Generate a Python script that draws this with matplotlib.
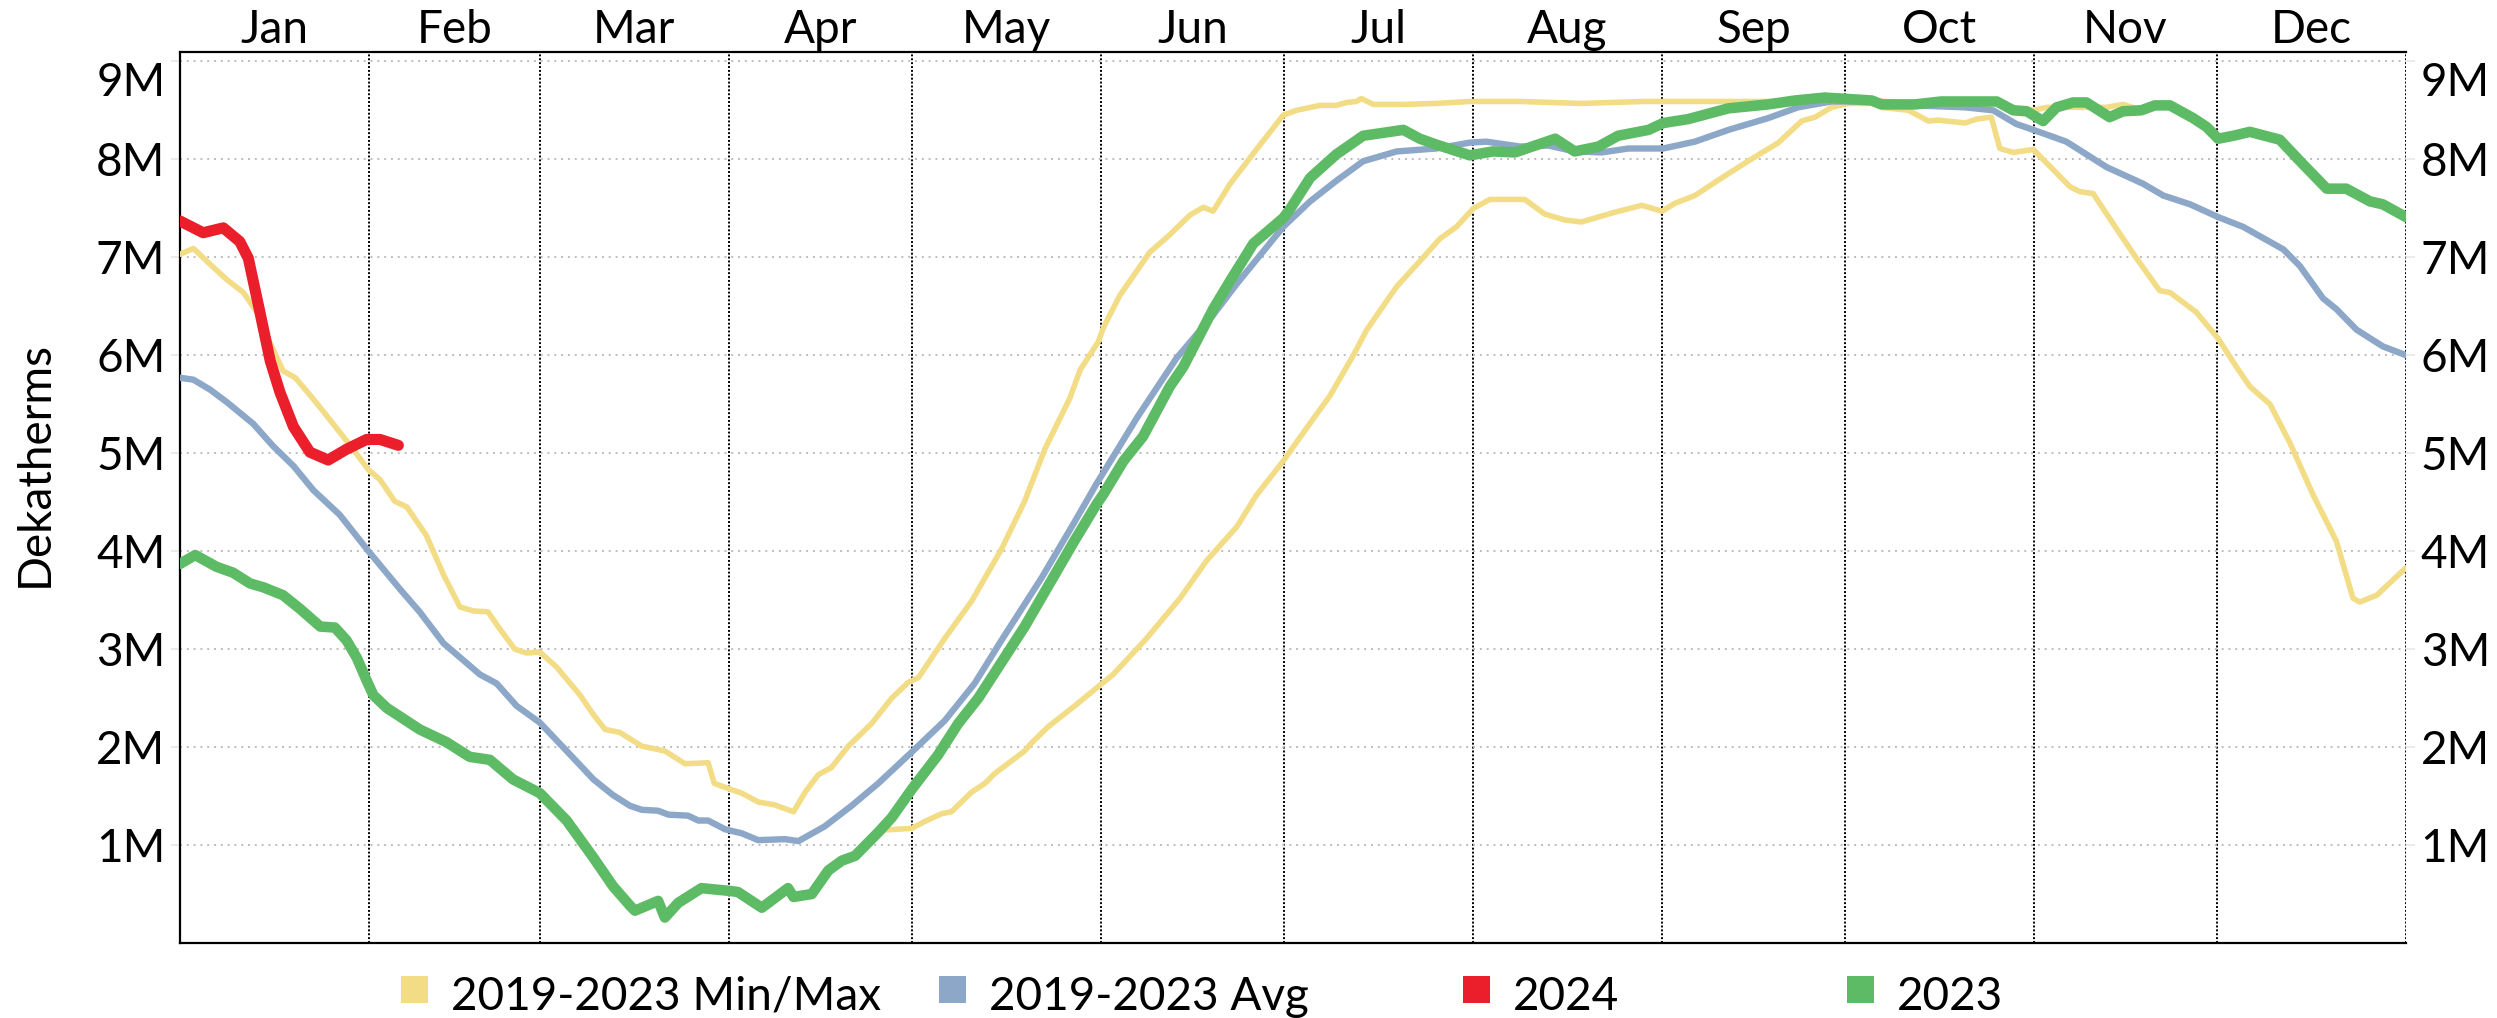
import matplotlib
matplotlib.use("Agg")
import matplotlib.pyplot as plt
from matplotlib.patches import Rectangle
from matplotlib.ticker import FixedLocator, FuncFormatter
from matplotlib.transforms import ScaledTranslation

# storage, millions of dekatherms, by day of year
months = ["Jan", "Feb", "Mar", "Apr", "May", "Jun", "Jul", "Aug", "Sep", "Oct", "Nov", "Dec"]
month_start = [0, 31, 59, 90, 120, 151, 181, 212, 243, 273, 304, 334, 365]

max_day = [0, 2.2, 4.9, 7.7, 10.4, 12.6, 14.8, 16.9, 18.9, 21.9,
           25.1, 28.4, 30.9, 32.8, 35.2, 37.2, 40.4, 43.2, 45.9, 48.1,
           50.5, 52.5, 54.9, 56.8, 59.0, 61.7, 65.6, 67.8, 69.7, 72.1,
           75.7, 79.5, 82.8, 86.6, 87.6, 90.2, 92.1, 94.8, 97.5, 100.6,
           102.5, 104.7, 106.8, 109.6, 113.4, 116.7, 119.4, 121.1, 125.4, 129.8,
           134.7, 138.5, 141.8, 145.9, 147.6, 150.6, 151.4, 154.1, 159.0, 162.3,
           165.6, 167.8, 169.4, 172.2, 176.5, 180.9, 183.1, 186.9, 189.6, 191.3,
           192.9, 193.7, 195.7, 200.6, 206.0, 211.5, 219.7, 229.8, 240, 250,
           260, 265, 269.7, 277.4, 284.5, 292.7, 297.9, 300.6, 303.9, 306.1,
           315.9, 318.6, 321.6, 323.8, 326.3, 330.1, 332.3, 334.2, 336.7, 339.4,
           344.3, 348.1, 352.0, 355.2, 359.1, 361.2, 365]
max_val = [7.03, 7.09, 6.93, 6.77, 6.64, 6.44, 6.12, 5.84, 5.77, 5.55,
           5.30, 5.04, 4.83, 4.73, 4.51, 4.45, 4.16, 3.76, 3.43, 3.39,
           3.38, 3.20, 3.00, 2.96, 2.97, 2.82, 2.53, 2.33, 2.18, 2.15,
           2.01, 1.96, 1.83, 1.84, 1.63, 1.57, 1.53, 1.44, 1.41, 1.34,
           1.54, 1.72, 1.79, 2.01, 2.24, 2.50, 2.66, 2.71, 3.11, 3.49,
           4.02, 4.51, 5.04, 5.56, 5.85, 6.14, 6.28, 6.61, 7.05, 7.23,
           7.43, 7.51, 7.47, 7.75, 8.10, 8.45, 8.50, 8.55, 8.55, 8.58,
           8.59, 8.62, 8.56, 8.56, 8.57, 8.59, 8.59, 8.57, 8.59, 8.59,
           8.59, 8.60, 8.63, 8.60, 8.57, 8.59, 8.59, 8.52, 8.50, 8.53,
           8.53, 8.56, 8.50, 8.55, 8.55, 8.42, 8.33, 8.21, 8.24, 8.28,
           8.20, 7.95, 7.70, 7.70, 7.57, 7.54, 7.41]

min_day = [114.5, 120.0, 122.1, 124.9, 126.5, 129.8, 132.0, 133.6, 138.5, 139.6,
           142.4, 146.7, 151.4, 153.0, 158.5, 164.0, 168.3, 173.3, 176.5, 180.9,
           184.2, 188.6, 192.4, 194.6, 199.5, 203.3, 206.6, 209.3, 212.1, 214.8,
           220.5, 223.8, 227.1, 229.8, 235.3, 239.7, 243.0, 245.1, 248.4, 252.8,
           257.1, 262.1, 265.9, 268.1, 270.8, 273.5, 277.4, 279.0, 283.4, 286.7,
           288.3, 292.7, 294.6, 297.0, 298.4, 300.6, 303.9, 306.1, 309.9, 311.5,
           313.7, 317.0, 320.8, 324.6, 326.3, 330.6, 334.2, 337.2, 339.4, 342.7,
           346.0, 349.8, 353.6, 356.3, 357.4, 360.2, 365]
min_val = [1.15, 1.17, 1.24, 1.32, 1.34, 1.54, 1.63, 1.73, 1.96, 2.04,
           2.21, 2.42, 2.66, 2.74, 3.11, 3.52, 3.90, 4.25, 4.57, 4.92,
           5.21, 5.59, 6.00, 6.26, 6.70, 6.96, 7.19, 7.31, 7.50, 7.59,
           7.59, 7.44, 7.38, 7.36, 7.46, 7.53, 7.47, 7.55, 7.63, 7.81,
           7.98, 8.17, 8.39, 8.43, 8.53, 8.57, 8.57, 8.53, 8.50, 8.39,
           8.40, 8.37, 8.41, 8.43, 8.11, 8.07, 8.10, 7.96, 7.72, 7.67,
           7.65, 7.34, 6.99, 6.66, 6.64, 6.44, 6.17, 5.88, 5.68, 5.50,
           5.10, 4.57, 4.10, 3.52, 3.48, 3.55, 3.83]

avg_day = [0, 2.2, 4.9, 7.7, 12.0, 15.3, 18.6, 21.9, 26.2, 30.9,
           36.1, 39.3, 43.2, 49.2, 51.9, 55.2, 59.0, 62.8, 67.8, 71.0,
           73.8, 75.7, 78.4, 80.1, 83.3, 85.0, 86.6, 89.4, 92.1, 94.8,
           99.2, 101.4, 105.7, 110.1, 114.5, 120.0, 125.4, 130.3, 134.7, 141.3,
           146.7, 150.3, 151.4, 156.9, 163.4, 169.4, 173.3, 180.9, 185.3, 189.6,
           194.0, 199.5, 206.0, 211.5, 214.2, 219.7, 224.4, 228.7, 233.1, 237.5,
           243.2, 248.4, 253.9, 260.4, 265.3, 270.8, 276.3, 284.5, 292.7, 297.3,
           301.1, 303.9, 309.3, 315.9, 321.9, 325.2, 329.6, 334.2, 338.3, 344.9,
           347.6, 351.4, 353.6, 356.9, 361.2, 365]
avg_val = [5.77, 5.75, 5.65, 5.52, 5.30, 5.07, 4.87, 4.62, 4.37, 4.00,
           3.61, 3.38, 3.06, 2.74, 2.65, 2.42, 2.25, 2.00, 1.67, 1.51,
           1.40, 1.36, 1.35, 1.31, 1.30, 1.25, 1.25, 1.16, 1.12, 1.05,
           1.06, 1.04, 1.19, 1.40, 1.63, 1.95, 2.27, 2.65, 3.09, 3.73,
           4.30, 4.69, 4.80, 5.36, 5.97, 6.41, 6.73, 7.31, 7.57, 7.78,
           7.98, 8.08, 8.11, 8.17, 8.18, 8.13, 8.14, 8.08, 8.07, 8.11,
           8.11, 8.18, 8.30, 8.42, 8.53, 8.59, 8.59, 8.55, 8.53, 8.50,
           8.36, 8.30, 8.18, 7.92, 7.75, 7.63, 7.54, 7.41, 7.31, 7.08,
           6.91, 6.58, 6.47, 6.26, 6.09, 6.00]

y2023_day = [0, 2.5, 6.0, 8.7, 11.5, 13.7, 16.9, 19.7, 23.0, 25.4,
             27.3, 29.0, 30.6, 31.7, 33.9, 39.3, 43.7, 47.5, 50.8, 54.6,
             59.0, 63.4, 67.8, 71.0, 73.8, 74.6, 78.4, 79.5, 81.7, 85.5,
             90.4, 91.5, 95.4, 99.7, 100.6, 103.6, 106.3, 108.5, 110.7, 114.5,
             116.7, 120.0, 124.3, 127.6, 130.9, 138.5, 146.7, 150.3, 151.4, 154.7,
             157.9, 162.3, 164.5, 169.4, 172.2, 176.0, 180.9, 182.0, 185.3, 189.6,
             194.0, 200.6, 203.3, 206.0, 211.5, 215.3, 218.9, 225.5, 228.7, 232.6,
             235.8, 240.8, 243.2, 247.3, 253.9, 260.4, 264.8, 269.7, 277.4, 279.0,
             284.5, 288.8, 297.9, 300.6, 302.8, 305.5, 307.7, 310.4, 312.6, 316.4,
             318.6, 321.6, 323.8, 326.3, 330.1, 332.3, 334.2, 336.7, 339.4, 344.3,
             348.1, 352.0, 355.2, 359.1, 361.2, 365]
y2023_val = [3.87, 3.96, 3.84, 3.78, 3.67, 3.63, 3.55, 3.41, 3.23, 3.22,
             3.09, 2.91, 2.68, 2.53, 2.40, 2.18, 2.05, 1.90, 1.87, 1.67,
             1.53, 1.25, 0.87, 0.58, 0.38, 0.33, 0.43, 0.26, 0.41, 0.56,
             0.53, 0.52, 0.36, 0.56, 0.47, 0.50, 0.74, 0.84, 0.89, 1.13,
             1.28, 1.57, 1.92, 2.24, 2.50, 3.23, 4.11, 4.48, 4.58, 4.92,
             5.17, 5.68, 5.88, 6.47, 6.76, 7.14, 7.40, 7.49, 7.81, 8.05,
             8.24, 8.30, 8.21, 8.15, 8.04, 8.08, 8.07, 8.21, 8.08, 8.13,
             8.24, 8.30, 8.37, 8.41, 8.52, 8.56, 8.60, 8.63, 8.60, 8.56,
             8.56, 8.59, 8.59, 8.50, 8.49, 8.39, 8.53, 8.58, 8.58, 8.43,
             8.49, 8.50, 8.55, 8.55, 8.42, 8.33, 8.21, 8.24, 8.28, 8.20,
             7.95, 7.70, 7.70, 7.57, 7.54, 7.41]

y2024_day = [0, 3.8, 7.1, 9.8, 11.2, 13.1, 14.8, 16.4, 18.6, 21.3, 24.3, 27.3, 30.6, 32.8, 35.8]
y2024_val = [7.37, 7.25, 7.30, 7.16, 6.99, 6.44, 5.94, 5.62, 5.27, 5.01, 4.93, 5.04, 5.14, 5.14, 5.08]

yticks = [1, 2, 3, 4, 5, 6, 7, 8, 9]

legend_labels = ["2019-2023 Min/Max", "2019-2023 Avg", "2024", "2023"]
c_yellow = "#F3DC86"
c_blue = "#8CA7C7"
c_red = "#EA1F2B"
c_green = "#5EBB65"
legend_colors = [c_yellow, c_blue, c_red, c_green]

plt.rcParams["font.family"] = ["Lato", "DejaVu Sans"]
FS = 33

W, H = 2497, 1018
fig = plt.figure(figsize=(W / 100, H / 100), dpi=100)
ax = fig.add_axes([180 / W, 1 - 943 / H, (2406 - 180) / W, (943 - 52) / H])

kw = dict(solid_joinstyle="round", solid_capstyle="round")
ax.plot(max_day, max_val, color=c_yellow, lw=4.0, zorder=3, **kw)
ax.plot(min_day, min_val, color=c_yellow, lw=4.0, zorder=3, **kw)
ax.plot(avg_day, avg_val, color=c_blue, lw=4.6, zorder=4, **kw)
ax.plot(y2023_day, y2023_val, color=c_green, lw=7.6, zorder=5, **kw)
ax.plot(y2024_day, y2024_val, color=c_red, lw=8.0, zorder=6, **kw)

ax.set_xlim(0, 365)
ax.set_ylim(0, 9.095)

# month boundaries as dotted verticals, names on top at mid month
ax.xaxis.tick_top()
ax.xaxis.set_major_locator(FixedLocator(month_start))
ax.xaxis.set_major_formatter(FuncFormatter(lambda v, p: ""))
mids = [(a + b) / 2 for a, b in zip(month_start[:-1], month_start[1:])]
ax.set_xticks(mids, minor=True)
ax.set_xticklabels(months, minor=True, fontsize=FS)
ax.tick_params(axis="x", which="both", length=0, pad=1)
ax.xaxis.grid(True, which="major", color="black", linestyle=(0, (1, 1)), linewidth=1.4)

ax.set_yticks(yticks)
ax.yaxis.set_major_formatter(FuncFormatter(lambda v, p: f"{int(v)}M"))
ax.tick_params(axis="y", labelsize=FS, length=6.5, width=1.2, color="#e8e8e8", pad=4,
               left=True, right=True, labelleft=True, labelright=True)
ax.yaxis.grid(True, color="#bdbdbd", linestyle=(0, (1, 2.5)), linewidth=1.4)
ax.set_axisbelow(True)

for s in ["top", "left", "bottom"]:
    ax.spines[s].set_linewidth(1.6)
    ax.spines[s].set_color("black")
ax.spines["right"].set_visible(False)

# the 9M labels sit a bit below their gridline
shift = ScaledTranslation(0, -0.18, fig.dpi_scale_trans)
top_tick = ax.yaxis.get_major_ticks()[-1]
top_tick.label1.set_transform(top_tick.label1.get_transform() + shift)
top_tick.label2.set_transform(top_tick.label2.get_transform() + shift)

fig.text(35 / W, 1 - 464 / H, "Dekatherms", rotation=90, ha="center", va="center", fontsize=FS)

# legend row under the plot
sq_left = [401, 939, 1463, 1847]
for x0, lab, col in zip(sq_left, legend_labels, legend_colors):
    fig.add_artist(Rectangle((x0 / W, 1 - 1003 / H), 27 / W, 27 / H,
                             transform=fig.transFigure, facecolor=col, edgecolor="none"))
    fig.text((x0 + 50) / W, 1 - 1010 / H, lab, ha="left", va="baseline", fontsize=FS)

fig.savefig("out.png", dpi=100, facecolor="white")
